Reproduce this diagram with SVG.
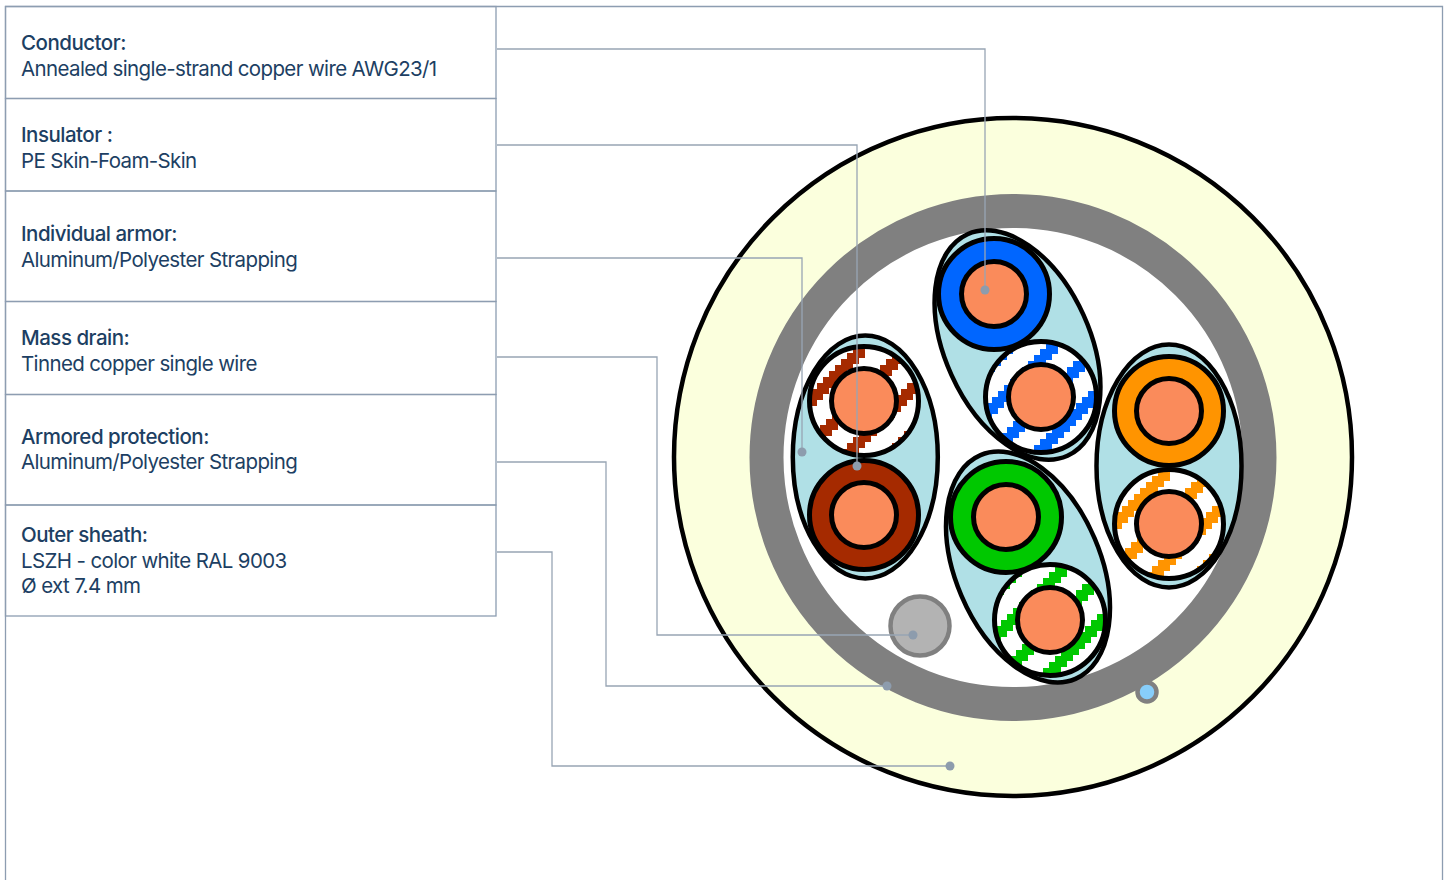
<svg xmlns="http://www.w3.org/2000/svg" xmlns:xlink="http://www.w3.org/1999/xlink" width="1447" height="880" viewBox="0 0 1447 880">
<style>
text{font-family:Inter,"Noto Sans",sans-serif;font-size:20.5px;fill:#1d3f63;letter-spacing:-.63px}
.t{font-weight:500;letter-spacing:-.5px}
.fr{fill:none;stroke:#8d9db1;stroke-width:1.3}
.c{fill:none;stroke:#98a5b4;stroke-width:1.3}
.d{fill:#8d9cad}
.k{stroke:#000;stroke-width:5}
.n{fill:none;stroke:#000;stroke-width:5}
.e{fill:#b0e0e6;stroke:#000;stroke-width:4.5}
.cu{fill:#fa8b5b;stroke:#000;stroke-width:5}
</style>
<defs>
<path id="b" shape-rendering="crispEdges" d="M-72 72h6v-6h6v-6h6v-6h6v-6h6v-6h6v-6h6v-6h6v-6h6v-6h6v-6h6v-6h6v-6h6v-6h6v-6h6v-6h6v-6h6v-6h6v-6h6v-6h6v-6h6v-6h6v-6h6v-6v23h-6v6h-6v6h-6v6h-6v6h-6v6h-6v6h-6v6h-6v6h-6v6h-6v6h-6v6h-6v6h-6v6h-6v6h-6v6h-6v6h-6v6h-6v6h-6v6h-6v6h-6v6h-6v6h-6v6z"/>
<g id="bands"><use href="#b" x="-110"/><use href="#b" x="-65"/><use href="#b" x="-20"/><use href="#b" x="25"/><use href="#b" x="70"/></g>
<clipPath id="cl"><circle r="56"/></clipPath>
</defs>
<rect width="1447" height="880" fill="#fff"/>
<path class="fr" d="M5.5 880V6.5H1442.5V880"/>
<g id="cable">
<circle id="outer-sheath" cx="1013" cy="457" r="339" fill="#fbffdd" stroke="#000" stroke-width="4.500"/>
<circle id="armored-protection" cx="1013" cy="457.500" r="246.500" fill="#fff" stroke="#808080" stroke-width="34"/>
<g id="pair-red">
<ellipse class="e" cx="865.300" cy="457" rx="72.500" ry="121.500"/>
<g transform="translate(864 401)"><circle r="55" fill="#fff"/><g clip-path="url(#cl)" fill="#a52a00"><use href="#bands"/></g><circle r="54.500" class="n"/><circle class="cu" r="32.500"/></g>
<g transform="translate(864 515)"><circle r="54.500" fill="#a52a00" class="k"/><circle class="cu" r="32.500"/></g>
</g>
<g id="pair-blue">
<ellipse class="e" cx="1017.500" cy="345" rx="72.500" ry="121.500" transform="rotate(-24.300 1017.500 345)"/>
<g transform="translate(994 294)"><circle r="55.500" fill="#0066ff" class="k"/><circle class="cu" r="32.500"/></g>
<g transform="translate(1041 397)"><circle r="55" fill="#fff"/><g clip-path="url(#cl)" fill="#0066ff"><use href="#bands" x="16"/></g><circle r="55.500" class="n"/><circle class="cu" r="32.500"/></g>
</g>
<g id="pair-orange">
<ellipse class="e" cx="1169" cy="466" rx="72.500" ry="121.500"/>
<g transform="translate(1169 411)"><circle r="54.500" fill="#ff9400" class="k"/><circle class="cu" r="32.500"/></g>
<g transform="translate(1169 524)"><circle r="55" fill="#fff"/><g clip-path="url(#cl)" fill="#ff9400"><use href="#bands"/></g><circle r="54.500" class="n"/><circle class="cu" r="32.500"/></g>
</g>
<g id="pair-green">
<ellipse class="e" cx="1028" cy="567" rx="72.500" ry="121.500" transform="rotate(-23 1028 567)"/>
<g transform="translate(1006 517)"><circle r="55.500" fill="#00c800" class="k"/><circle class="cu" r="32.500"/></g>
<g transform="translate(1050 620)"><circle r="55" fill="#fff"/><g clip-path="url(#cl)" fill="#00c800"><use href="#bands" x="16"/></g><circle r="55.500" class="n"/><circle class="cu" r="32.500"/></g>
</g>
<circle id="mass-drain" cx="920" cy="626" r="29.500" fill="#b3b3b3" stroke="#808080" stroke-width="4.500"/>
<circle id="fiber" cx="1147" cy="692" r="9.500" fill="#87cefa" stroke="#808080" stroke-width="4.500"/>
</g>
<g id="legend">
<g id="row-conductor"><rect class="fr" x="5.500" y="6.500" width="490.500" height="92"/><text class="t" x="21" y="50">Conductor:</text><text x="21" y="76">Annealed single-strand copper wire AWG23/1</text></g>
<g id="row-insulator"><rect class="fr" x="5.500" y="98.500" width="490.500" height="92.500"/><text class="t" x="21" y="142">Insulator :</text><text x="21" y="168">PE Skin-Foam-Skin</text></g>
<g id="row-armor"><rect class="fr" x="5.500" y="191" width="490.500" height="110.500"/><text class="t" x="21" y="241">Individual armor:</text><text x="21" y="267">Aluminum/Polyester Strapping</text></g>
<g id="row-drain"><rect class="fr" x="5.500" y="301.500" width="490.500" height="93"/><text class="t" x="21" y="345">Mass drain:</text><text x="21" y="371">Tinned copper single wire</text></g>
<g id="row-protection"><rect class="fr" x="5.500" y="394.500" width="490.500" height="110.500"/><text class="t" x="21" y="444">Armored protection:</text><text x="21" y="469">Aluminum/Polyester Strapping</text></g>
<g id="row-sheath"><rect class="fr" x="5.500" y="505" width="490.500" height="111"/><text class="t" x="21" y="542">Outer sheath:</text><text x="21" y="568">LSZH - color white RAL 9003</text><text x="21" y="593">Ø ext 7.4 mm</text></g>
</g>
<g id="connectors">
<path class="c" d="M497 49H985V290"/><circle class="d" cx="985" cy="290" r="4.500"/>
<path class="c" d="M497 145H857V466"/><circle class="d" cx="857" cy="466" r="4.500"/>
<path class="c" d="M497 258H802V452"/><circle class="d" cx="802" cy="452" r="4.500"/>
<path class="c" d="M497 357H657V635H913"/><circle class="d" cx="913" cy="635" r="4.500"/>
<path class="c" d="M497 462H606V686H887"/><circle class="d" cx="887" cy="686" r="4.500"/>
<path class="c" d="M497 552H552V766H950"/><circle class="d" cx="950" cy="766" r="4.500"/>
</g>
</svg>
